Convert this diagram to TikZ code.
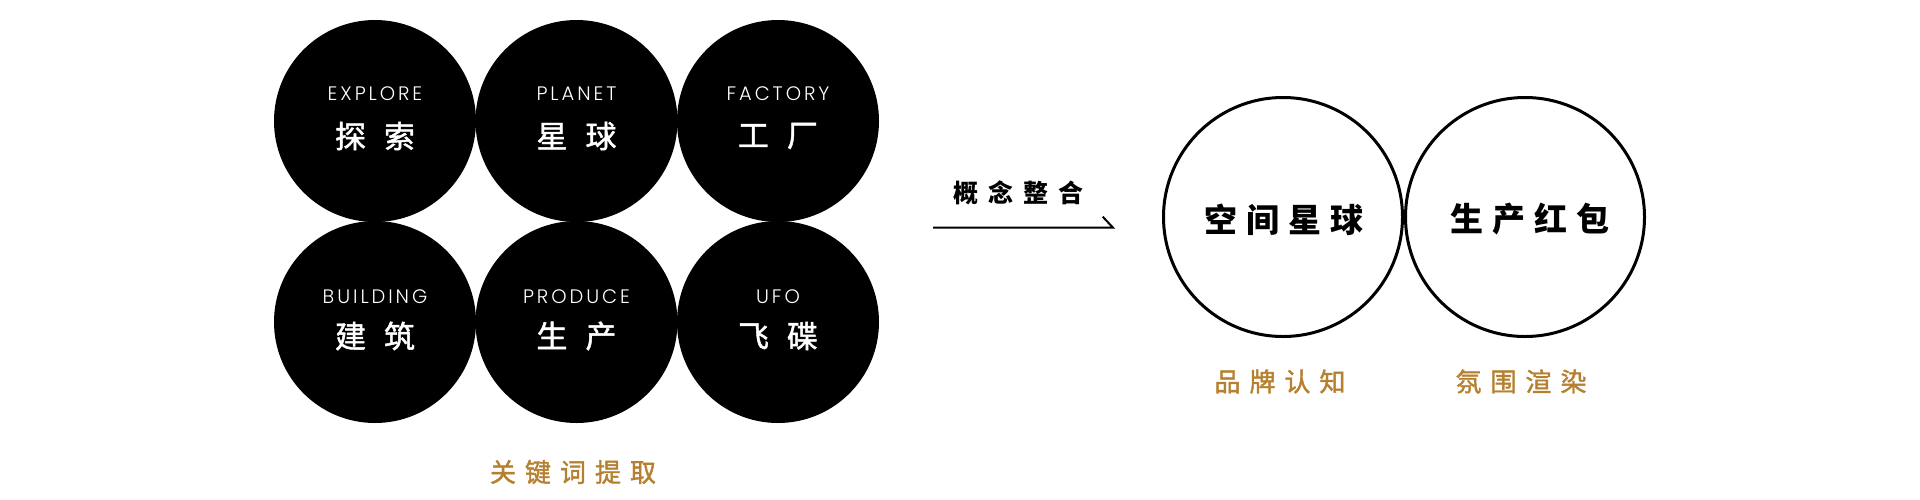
\documentclass[tikz,border=0pt]{standalone}
\usepackage{fontspec}
\newfontfamily\cjk{Noto Sans CJK SC}
\newfontfamily\cjkm[FakeBold=1.5]{Noto Sans CJK SC}
\newfontfamily\pop[LetterSpace=15]{Poppins Light}
\definecolor{gold}{HTML}{B5802F}
\begin{document}
\begin{tikzpicture}[x=1pt,y=-1pt,
  dot/.style={circle,fill=black,minimum size=202pt,inner sep=0pt},
  ring/.style={circle,draw=black,line width=3pt,minimum size=239pt,inner sep=0pt},
  en/.style={text=white,inner sep=0pt,font=\pop\fontsize{19.5}{19.5}\selectfont},
  zhw/.style={text=white,inner sep=0pt,font=\cjkm\fontsize{31}{31}\selectfont},
  zhb/.style={text=black,inner sep=0pt,font=\cjk\bfseries\fontsize{33}{33}\selectfont},
  zhg/.style={text=gold,inner sep=0pt,font=\cjkm\fontsize{26}{26}\selectfont},
  arrowline/.style={line width=2pt,black}]
\useasboundingbox (0,0) rectangle (1920,499);
% black circles
\node[dot] (c1) at (375,121) {};
\node[dot] (c2) at (576.5,121) {};
\node[dot] (c3) at (778,121) {};
\node[dot] (c4) at (375,322) {};
\node[dot] (c5) at (576.5,322) {};
\node[dot] (c6) at (778,322) {};
% labels in black circles
\node[en] (e1) at (375,93.3) {EXPLORE};
\node[en] (e2) at (576.5,93.3) {PLANET};
\node[en] (e3) at (778,93.3) {FACTORY};
\node[en] (e4) at (375,297) {BUILDING};
\node[en] (e5) at (576.5,297) {PRODUCE};
\node[en] (e6) at (778,297) {UFO};
\node[zhw] (z1) at (375,136) {探\hspace{18pt}索};
\node[zhw] (z2) at (576.5,136) {星\hspace{18pt}球};
\node[zhw] (z3) at (778,136) {工\hspace{18pt}厂};
\node[zhw] (z4) at (375,336) {建\hspace{18pt}筑};
\node[zhw] (z5) at (576.5,336) {生\hspace{18pt}产};
\node[zhw] (z6) at (778,336) {飞\hspace{18pt}碟};
\node[zhg] (kw) at (573,472) {关\hspace{9pt}键\hspace{9pt}词\hspace{9pt}提\hspace{9pt}取};
% arrow
\node[inner sep=0pt,font=\cjk\bfseries\fontsize{25}{25}\selectfont] (gn) at (1018,193) {概\hspace{10pt}念\hspace{10pt}整\hspace{10pt}合};
\coordinate (as) at (933,227.7);
\coordinate (ae) at (1113,227.7);
\coordinate (ab) at (1102.7,216.7);
\draw[arrowline] (as) -- (ae) -- (ab);
% outline circles
\node[ring] (r1) at (1283,217) {};
\node[ring] (r2) at (1525,217) {};
\node[zhb] (t1) at (1284,220) {空\hspace{9pt}间\hspace{9pt}星\hspace{9pt}球};
\node[zhb] (t2) at (1530,219) {生\hspace{9pt}产\hspace{9pt}红\hspace{9pt}包};
\node[zhg] (b1) at (1280,381.5) {品\hspace{9pt}牌\hspace{9pt}认\hspace{9pt}知};
\node[zhg] (b2) at (1521,381.5) {氛\hspace{9pt}围\hspace{9pt}渲\hspace{9pt}染};
\end{tikzpicture}
\end{document}
